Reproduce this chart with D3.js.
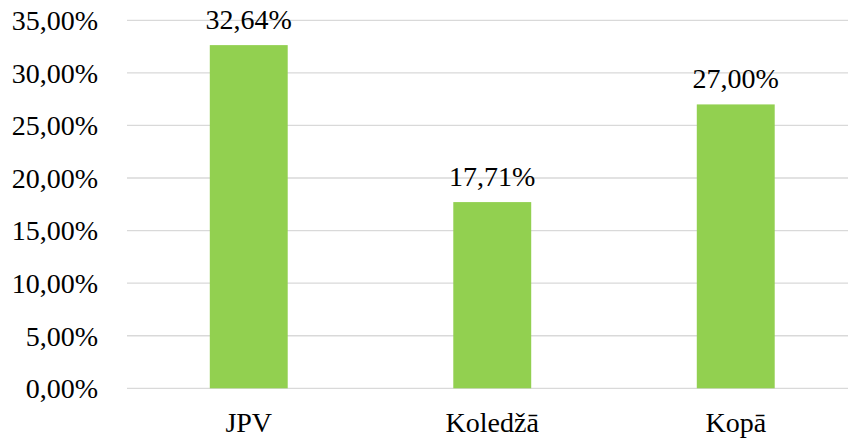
<!DOCTYPE html>
<html><head><meta charset="utf-8">
<script src="https://cdn.jsdelivr.net/npm/d3@7"></script>
<style>body{margin:0;background:#fff}svg{display:block}</style>
</head><body>
<svg id="c" width="848" height="440"></svg>
<script>
const categories = ["JPV", "Koledžā", "Kopā"];
const values = [32.64, 17.71, 27.00];
const yTicks = [0, 5, 10, 15, 20, 25, 30, 35];

const svg = d3.select("#c");
const fmt = v => v.toFixed(2).replace(".", ",") + "%";
const styleText = sel => sel
  .attr("font-family", "Times New Roman")
  .style("font-family", "'Times New Roman', 'Liberation Serif', Tinos, serif")
  .attr("font-size", 28).attr("fill", "#000");

const x = d3.scaleBand().domain(categories).range([127, 857.5]).paddingInner(0.68).paddingOuter(0.34);
const y = d3.scaleLinear().domain([0, 35]).range([388.3, 20.3]);

// gridlines
svg.append("g").selectAll("line").data(yTicks).join("line")
  .attr("x1", 127).attr("x2", 848)
  .attr("y1", d => y(d)).attr("y2", d => y(d))
  .attr("stroke", "#d9d9d9").attr("stroke-width", 1.3);

// y labels
svg.append("g").selectAll("text").data(yTicks).join("text")
  .attr("x", 98).attr("y", d => y(d)).attr("dy", "0.35em")
  .attr("text-anchor", "end").call(styleText).text(d => fmt(d));

// bars
svg.append("g").selectAll("rect").data(values).join("rect")
  .attr("x", (d, i) => x(categories[i])).attr("width", x.bandwidth())
  .attr("y", d => y(d)).attr("height", d => y(0) - y(d))
  .attr("fill", "#92D050");

// value labels
svg.append("g").selectAll("text").data(values).join("text")
  .attr("x", (d, i) => x(categories[i]) + x.bandwidth() / 2)
  .attr("y", d => y(d) - 16.5)
  .attr("text-anchor", "middle").call(styleText).text(d => fmt(d));

// x labels
svg.append("g").selectAll("text").data(categories).join("text")
  .attr("x", d => x(d) + x.bandwidth() / 2).attr("y", 431.5)
  .attr("text-anchor", "middle").call(styleText).text(d => d);
</script>
</body></html>
